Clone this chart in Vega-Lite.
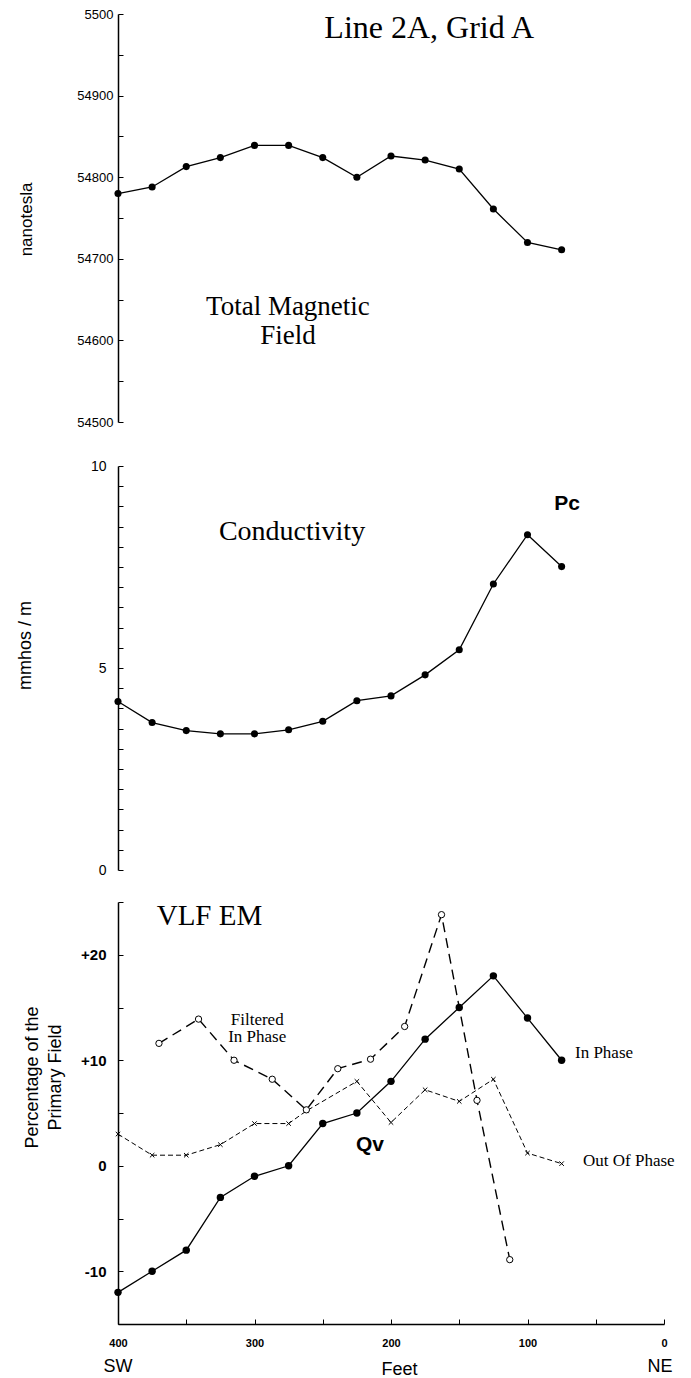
{
  "$schema": "https://vega.github.io/schema/vega-lite/v6.json",
  "background": "white",
  "padding": {"left": 16, "top": 8, "right": 5, "bottom": 2},
  "config": {
    "view": {"stroke": null},
    "axis": {
      "grid": false,
      "domainColor": "black",
      "domainWidth": 1.5,
      "tickColor": "black",
      "tickWidth": 1,
      "tickSize": -5,
      "labelColor": "black",
      "titleColor": "black",
      "labelFont": "Liberation Sans",
      "titleFont": "Liberation Sans",
      "titleFontWeight": "normal",
      "labelOverlap": false,
      "labelFlush": false
    }
  },
  "datasets": {
    "mag": [
      {"feet": 400, "nT": 54780}, {"feet": 375, "nT": 54788}, {"feet": 350, "nT": 54813},
      {"feet": 325, "nT": 54824}, {"feet": 300, "nT": 54839}, {"feet": 275, "nT": 54839},
      {"feet": 250, "nT": 54824}, {"feet": 225, "nT": 54800}, {"feet": 200, "nT": 54826},
      {"feet": 175, "nT": 54821}, {"feet": 150, "nT": 54810}, {"feet": 125, "nT": 54761},
      {"feet": 100, "nT": 54720}, {"feet": 75, "nT": 54711}
    ],
    "cond": [
      {"feet": 400, "mmhos": 4.17}, {"feet": 375, "mmhos": 3.65}, {"feet": 350, "mmhos": 3.45},
      {"feet": 325, "mmhos": 3.37}, {"feet": 300, "mmhos": 3.37}, {"feet": 275, "mmhos": 3.47},
      {"feet": 250, "mmhos": 3.68}, {"feet": 225, "mmhos": 4.19}, {"feet": 200, "mmhos": 4.31},
      {"feet": 175, "mmhos": 4.83}, {"feet": 150, "mmhos": 5.45}, {"feet": 125, "mmhos": 7.08},
      {"feet": 100, "mmhos": 8.30}, {"feet": 75, "mmhos": 7.51}
    ],
    "inphase": [
      {"feet": 400, "pct": -12}, {"feet": 375, "pct": -10}, {"feet": 350, "pct": -8},
      {"feet": 325, "pct": -3}, {"feet": 300, "pct": -1}, {"feet": 275, "pct": 0},
      {"feet": 250, "pct": 4}, {"feet": 225, "pct": 5}, {"feet": 200, "pct": 8},
      {"feet": 175, "pct": 12}, {"feet": 150, "pct": 15}, {"feet": 125, "pct": 18},
      {"feet": 100, "pct": 14}, {"feet": 75, "pct": 10}
    ],
    "outphase": [
      {"feet": 400, "pct": 3}, {"feet": 375, "pct": 1}, {"feet": 350, "pct": 1},
      {"feet": 325, "pct": 2}, {"feet": 300, "pct": 4}, {"feet": 275, "pct": 4},
      {"feet": 262, "pct": 5.2}, {"feet": 225, "pct": 8}, {"feet": 200, "pct": 4.1},
      {"feet": 175, "pct": 7.2}, {"feet": 150, "pct": 6.1}, {"feet": 125, "pct": 8.2},
      {"feet": 100, "pct": 1.2}, {"feet": 75, "pct": 0.2}
    ],
    "filtered": [
      {"feet": 370, "pct": 11.6}, {"feet": 341, "pct": 13.9}, {"feet": 315, "pct": 10.0},
      {"feet": 287, "pct": 8.2}, {"feet": 262, "pct": 5.3}, {"feet": 239, "pct": 9.2},
      {"feet": 215, "pct": 10.1}, {"feet": 190, "pct": 13.2}, {"feet": 163, "pct": 23.8},
      {"feet": 137, "pct": 6.2}, {"feet": 113, "pct": -8.9}
    ]
  },
  "spacing": 18,
  "bounds": "full",
  "vconcat": [
    {
      "spacing": 44,
      "bounds": "flush",
      "vconcat": [
        {
          "width": 546,
          "height": 408,
          "encoding": {
            "x": {"field": "feet", "type": "quantitative", "scale": {"domain": [0, 400], "reverse": true, "nice": false}, "axis": null},
            "y": {"field": "nT", "type": "quantitative", "scale": {"domain": [54500, 55000], "zero": false, "nice": false},
              "axis": {
                "values": [54500, 54550, 54600, 54650, 54700, 54750, 54800, 54850, 54900, 54950, 55000],
                "labelExpr": "datum.value % 100 == 0 ? (datum.value == 55000 ? '5500' : '' + datum.value) : ''",
                "labelFontSize": 13,
                "labelPadding": 10,
                "title": "nanotesla",
                "titleFontSize": 17,
                "titleX": -92,
                "titleY": 205,
                "titleBaseline": "middle"
              }
            }
          },
          "layer": [
            {"data": {"name": "mag"}, "mark": {"type": "line", "color": "black", "strokeWidth": 1.3}},
            {"data": {"name": "mag"}, "mark": {"type": "point", "filled": true, "color": "black", "opacity": 1, "size": 50}},
            {"data": {"values": [{"feet": 172, "nT": 54971, "label": "Line 2A, Grid A"}]},
              "mark": {"type": "text", "font": "Liberation Serif", "fontSize": 32, "baseline": "alphabetic", "align": "center", "color": "black"},
              "encoding": {"text": {"field": "label", "type": "nominal"}}},
            {"data": {"values": [{"feet": 275.5, "nT": 54641, "label": ["Total Magnetic", "Field"]}]},
              "mark": {"type": "text", "font": "Liberation Serif", "fontSize": 27, "lineHeight": 29, "baseline": "middle", "align": "center", "color": "black"},
              "encoding": {"text": {"field": "label", "type": "nominal"}}}
          ]
        },
        {
          "width": 546,
          "height": 404,
          "encoding": {
            "x": {"field": "feet", "type": "quantitative", "scale": {"domain": [0, 400], "reverse": true, "nice": false}, "axis": null},
            "y": {"field": "mmhos", "type": "quantitative", "scale": {"domain": [0, 10], "nice": false},
              "axis": {
                "values": [0, 0.5, 1, 1.5, 2, 2.5, 3, 3.5, 4, 4.5, 5, 5.5, 6, 6.5, 7, 7.5, 8, 8.5, 9, 9.5, 10],
                "labelExpr": "datum.value % 5 == 0 ? '' + datum.value : ''",
                "labelFontSize": 14,
                "labelPadding": 17,
                "title": "mmhos / m",
                "titleFontSize": 18,
                "titleX": -93,
                "titleY": 179,
                "titleBaseline": "middle"
              }
            }
          },
          "layer": [
            {"data": {"name": "cond"}, "mark": {"type": "line", "color": "black", "strokeWidth": 1.3}},
            {"data": {"name": "cond"}, "mark": {"type": "point", "filled": true, "color": "black", "opacity": 1, "size": 50}},
            {"data": {"values": [{"feet": 272.5, "mmhos": 8.37, "label": "Conductivity"}]},
              "mark": {"type": "text", "font": "Liberation Serif", "fontSize": 28, "baseline": "middle", "align": "center", "color": "black"},
              "encoding": {"text": {"field": "label", "type": "nominal"}}},
            {"data": {"values": [{"feet": 71, "mmhos": 9.06, "label": "Pc"}]},
              "mark": {"type": "text", "font": "Liberation Sans", "fontWeight": "bold", "fontSize": 21, "baseline": "middle", "align": "center", "color": "black"},
              "encoding": {"text": {"field": "label", "type": "nominal"}}}
          ]
        }
      ]
    },
    {
      "width": 546,
      "height": 422,
      "encoding": {
        "x": {"field": "feet", "type": "quantitative", "scale": {"domain": [0, 400], "reverse": true, "nice": false},
          "axis": {
            "values": [0, 50, 100, 150, 200, 250, 300, 350, 400],
            "labelExpr": "datum.value % 100 == 0 ? '' + datum.value : ''",
            "labelFontSize": 11,
            "labelFontWeight": "bold",
            "labelPadding": 18,
            "title": "Feet",
            "titleFontSize": 18,
            "titleX": 281,
            "titleY": 45,
            "titleBaseline": "middle"
          }
        },
        "y": {"field": "pct", "type": "quantitative", "scale": {"domain": [-15, 25], "nice": false, "zero": false},
          "axis": {
            "values": [-15, -10, -5, 0, 5, 10, 15, 20, 25],
            "labelExpr": "datum.value % 10 == 0 ? (datum.value > 0 ? '+' + datum.value : '' + datum.value) : ''",
            "labelFontSize": 15,
            "labelFontWeight": "bold",
            "labelPadding": 17,
            "title": ["Percentage of the", "Primary Field"],
            "titleFontSize": 18,
            "titleLineHeight": 23,
            "titleX": -86,
            "titleY": 175,
            "titleBaseline": "middle"
          }
        }
      },
      "layer": [
        {"data": {"name": "outphase"}, "mark": {"type": "line", "color": "black", "strokeWidth": 1, "strokeDash": [5, 3]}},
        {"data": {"name": "outphase"}, "mark": {"type": "point", "shape": "M-1,-1L1,1M-1,1L1,-1", "filled": false, "color": "black", "strokeWidth": 1, "opacity": 1, "size": 20}},
        {"data": {"name": "filtered"}, "mark": {"type": "line", "color": "black", "strokeWidth": 1.4, "strokeDash": [10, 6]}},
        {"data": {"name": "filtered"}, "mark": {"type": "point", "filled": true, "fill": "white", "stroke": "black", "strokeWidth": 1, "opacity": 1, "size": 40}},
        {"data": {"name": "inphase"}, "mark": {"type": "line", "color": "black", "strokeWidth": 1.3}},
        {"data": {"name": "inphase"}, "mark": {"type": "point", "filled": true, "color": "black", "opacity": 1, "size": 55}},
        {"data": {"values": [{"feet": 333, "pct": 23.7, "label": "VLF EM"}]},
          "mark": {"type": "text", "font": "Liberation Serif", "fontSize": 29, "baseline": "middle", "align": "center", "color": "black"},
          "encoding": {"text": {"field": "label", "type": "nominal"}}},
        {"data": {"values": [{"feet": 298, "pct": 13.8, "label": ["Filtered", "In Phase"]}]},
          "mark": {"type": "text", "font": "Liberation Serif", "fontSize": 17, "lineHeight": 17, "baseline": "middle", "align": "center", "color": "black"},
          "encoding": {"text": {"field": "label", "type": "nominal"}}},
        {"data": {"values": [{"feet": 65.2, "pct": 10.66, "label": "In Phase"}, {"feet": 59.3, "pct": 0.47, "label": "Out Of Phase"}]},
          "mark": {"type": "text", "font": "Liberation Serif", "fontSize": 17, "baseline": "middle", "align": "left", "color": "black"},
          "encoding": {"text": {"field": "label", "type": "nominal"}}},
        {"data": {"values": [{"feet": 215.4, "pct": 1.98, "label": "Qv"}]},
          "mark": {"type": "text", "font": "Liberation Sans", "fontWeight": "bold", "fontSize": 21, "baseline": "middle", "align": "center", "color": "black"},
          "encoding": {"text": {"field": "label", "type": "nominal"}}},
        {"data": {"values": [{"feet": 400, "pct": -15, "label": "SW"}, {"feet": 3, "pct": -15, "label": "NE"}]},
          "mark": {"type": "text", "font": "Liberation Sans", "fontSize": 18, "baseline": "middle", "align": "center", "dy": 43, "color": "black"},
          "encoding": {"text": {"field": "label", "type": "nominal"}}}
      ]
    }
  ]
}
